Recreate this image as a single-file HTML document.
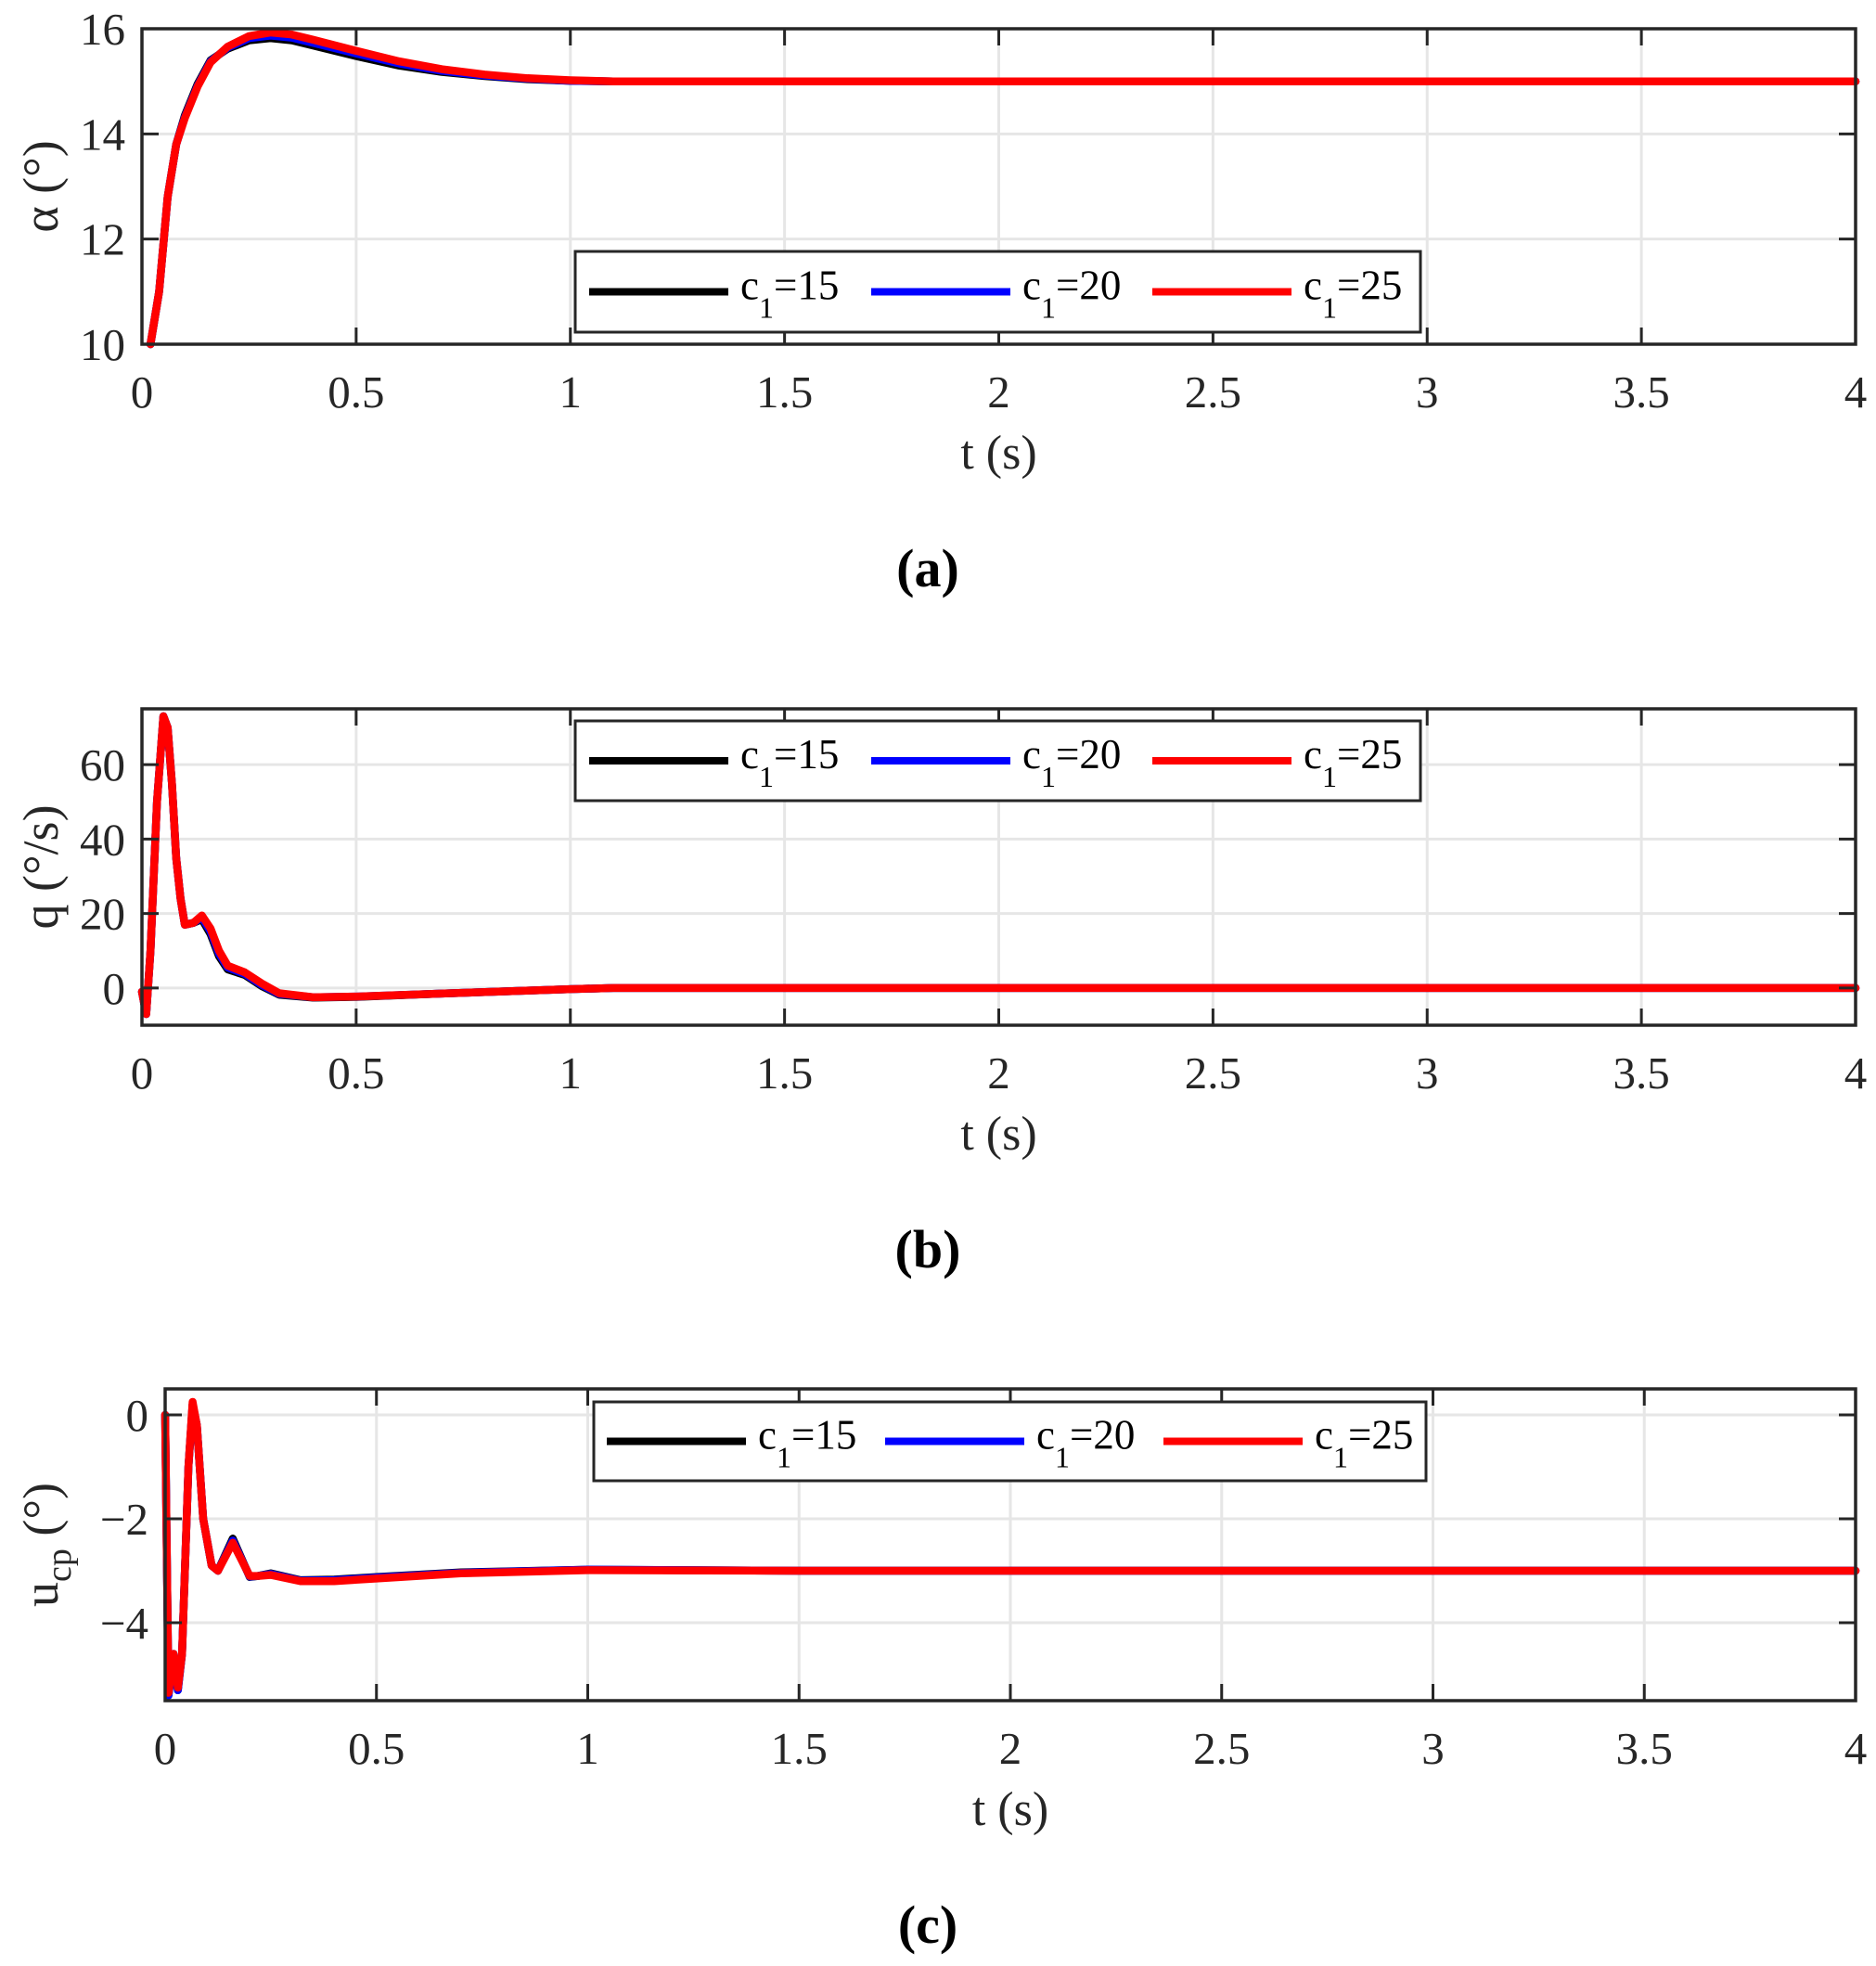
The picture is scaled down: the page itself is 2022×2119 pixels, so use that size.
<!DOCTYPE html>
<html><head><meta charset="utf-8"><style>
html,body{margin:0;padding:0;background:#fff;}
svg{display:block;font-family:"Liberation Serif",serif;}
</style></head><body>
<svg id="fig" width="2022" height="2119" viewBox="0 0 2022 2119" xmlns="http://www.w3.org/2000/svg"></svg>
<script>
// ---- Panel (a): alpha ----
const tA = [0.02,0.04,0.06,0.08,0.1,0.13,0.16,0.2,0.25,0.3,0.35,0.4,0.5,0.6,0.7,0.8,0.9,1.0,1.1,1.5,2,3,4];
const alpha15 = [10,11,12.8,13.8,14.35,14.95,15.4,15.62,15.78,15.82,15.78,15.68,15.48,15.3,15.18,15.1,15.04,15.01,15.0,15,15,15,15];
const alpha20 = [10,11,12.8,13.8,14.32,14.92,15.38,15.64,15.82,15.87,15.83,15.73,15.53,15.34,15.2,15.11,15.05,15.01,15.0,15,15,15,15];
const alpha25 = [10,11,12.8,13.8,14.3,14.9,15.36,15.66,15.86,15.93,15.89,15.79,15.58,15.38,15.23,15.13,15.06,15.02,15.0,15,15,15,15];
const ticksA = [10,12,14,16];
// ---- Panel (b): q ----
const tB = [0,0.01,0.02,0.035,0.05,0.06,0.07,0.08,0.09,0.1,0.12,0.14,0.16,0.18,0.2,0.24,0.28,0.32,0.4,0.5,0.7,1.0,1.1,2,3,4];
const q15 = [-1,-7,10,50,73,70,55,35,24,17,17.5,18.5,14.5,8.5,5,3.5,0.5,-1.8,-2.6,-2.4,-1.5,-0.3,0,0,0,0];
const q20 = [-1,-7,10,50,73,70,55,35,24,17,17.5,19,15.2,9.2,5.5,3.8,0.8,-1.6,-2.5,-2.3,-1.5,-0.3,0,0,0,0];
const q25 = [-1,-7,10,50,73,70,55,35,24,17,17.5,19.5,16,10,6,4.2,1.2,-1.4,-2.5,-2.3,-1.5,-0.3,0,0,0,0];
const ticksB = [0,20,40,60];
// ---- Panel (c): u_cp ----
const tC = [0,0.008,0.02,0.03,0.04,0.055,0.065,0.075,0.09,0.11,0.125,0.16,0.2,0.22,0.25,0.32,0.4,0.5,0.7,1.0,1.5,2,3,4];
const u15 = [0,-5.4,-4.6,-5.3,-4.6,-1,0.2,-0.2,-2,-2.9,-3.0,-2.38,-3.12,-3.1,-3.05,-3.18,-3.17,-3.12,-3.03,-2.98,-3,-3,-3,-3];
const u20 = [0,-5.4,-4.6,-5.3,-4.6,-1,0.2,-0.2,-2,-2.9,-3.0,-2.42,-3.11,-3.1,-3.06,-3.19,-3.18,-3.13,-3.04,-2.98,-3,-3,-3,-3];
const u25 = [0,-5.35,-4.6,-5.25,-4.6,-1,0.25,-0.2,-2,-2.9,-3.0,-2.46,-3.1,-3.1,-3.08,-3.2,-3.2,-3.15,-3.05,-2.99,-3,-3,-3,-3];
const ticksC = [-4,-2,0];
const ticksX = [0,0.5,1,1.5,2,2.5,3,3.5,4];
const xTickLabels = ["0","0.5","1","1.5","2","2.5","3","3.5","4"];
const legendLabels = ["15","20","25"];
const colors = ["#000000","#0000ff","#ff0000"];

const NS = "http://www.w3.org/2000/svg";
const svg = document.getElementById('fig');
function mk(tag, attrs, parent){
  const e = document.createElementNS(NS, tag);
  for (const k in attrs) e.setAttribute(k, attrs[k]);
  (parent||svg).appendChild(e);
  return e;
}

function panel(cfg){
  const g = mk('g', {});
  
  
  const L=cfg.l, R=cfg.r, T=cfg.t, B=cfg.b;
  const xs = v => L + (v - 0) / 4 * (R - L);
  const ys = v => B - (v - cfg.ymin) / (cfg.ymax - cfg.ymin) * (B - T);
  ticksX.forEach((v,i)=>{
    const ln = mk('line',{x1:xs(v),x2:xs(v),y1:T,y2:B,stroke:'#e6e6e6','stroke-width':3},g);
    
    
  });
  cfg.yt.forEach(v=>{
    const ln = mk('line',{x1:L,x2:R,y1:ys(v),y2:ys(v),stroke:'#e6e6e6','stroke-width':3},g);
    
    
  });
  const series = cfg.series;
  series.forEach((ys_,si)=>{
    const pts = cfg.x.map((t,i)=>xs(t).toFixed(1)+','+ys(ys_[i]).toFixed(1)).join(' ');
    const pl = mk('polyline',{points:pts,fill:'none',stroke:colors[si],'stroke-width':8.5,'stroke-linejoin':'round','stroke-linecap':'round'},g);
    
    
  });
  ticksX.forEach((v,i)=>{
    mk('line',{x1:xs(v),x2:xs(v),y1:B,y2:B-18,stroke:'#262626','stroke-width':3},g);
    mk('line',{x1:xs(v),x2:xs(v),y1:T,y2:T+18,stroke:'#262626','stroke-width':3},g);
    const tx = mk('text',{x:xs(v),y:B+68,'font-size':49,'text-anchor':'middle',fill:'#262626'},g);
    tx.textContent = xTickLabels[i];
    
    
  });
  cfg.yt.forEach(v=>{
    mk('line',{x1:L,x2:L+18,y1:ys(v),y2:ys(v),stroke:'#262626','stroke-width':3},g);
    mk('line',{x1:R,x2:R-18,y1:ys(v),y2:ys(v),stroke:'#262626','stroke-width':3},g);
    const tx = mk('text',{x:L-18,y:ys(v)+17,'font-size':49,'text-anchor':'end',fill:'#262626'},g);
    tx.textContent = String(v).replace('-','\u2212');
    
    
  });
  const fr = mk('rect',{x:L,y:T,width:R-L,height:B-T,fill:'none',stroke:'#262626','stroke-width':3.5},g);
  
  
  const xt = mk('text',{x:(L+R)/2,y:B+134,'font-size':52,'text-anchor':'middle',fill:'#262626'},g);
  xt.textContent = 't (s)';
  
  
  const yt = mk('text',{x:0,y:0,'font-size':54,'text-anchor':'middle',fill:'#262626',transform:'translate(62,'+((T+B)/2)+') rotate(-90)'},g);
  yt.innerHTML = cfg.ylabel;
  
  
  const pl = mk('text',{x:1000,y:B+261,'font-size':58,'font-weight':'bold','text-anchor':'middle',fill:'#000'},g);
  pl.textContent = cfg.plabel;
  
  
  const lg = cfg.leg;
  const lgG = mk('g',{},g);
  
  
  mk('rect',{x:lg.x1,y:lg.y1,width:lg.x2-lg.x1,height:lg.y2-lg.y1,fill:'#fff',stroke:'#262626','stroke-width':3},lgG);
  const cy = (lg.y1+lg.y2)/2;
  legendLabels.forEach((lab,i)=>{
    const lx = lg.lx[i];
    const ent = mk('g',{},lgG);
    
    
    mk('line',{x1:lx,x2:lx+150,y1:cy,y2:cy,stroke:colors[i],'stroke-width':8},ent);
    const tx = mk('text',{x:lx+163,y:cy+8,'font-size':45,fill:'#000'},ent);
    tx.innerHTML = 'c<tspan font-size="32" dy="20">1</tspan><tspan dy="-20">=' + lab + '</tspan>';
  });
}

panel({name:'panel-a-alpha',l:153,r:2000,t:31,b:371,ymin:10,ymax:16,yt:ticksA,x:tA,series:[alpha15,alpha20,alpha25],
  ylabel:'\u03b1 (\u00b0)',plabel:'(a)',leg:{x1:620,x2:1531,y1:271,y2:358,lx:[635,939,1242]}});
panel({name:'panel-b-q',l:153,r:2000,t:764,b:1105,ymin:-10,ymax:75,yt:ticksB,x:tB,series:[q15,q20,q25],
  ylabel:'q (\u00b0/s)',plabel:'(b)',leg:{x1:620,x2:1531,y1:777,y2:863,lx:[635,939,1242]}});
panel({name:'panel-c-ucp',l:178,r:2000,t:1497,b:1833,ymin:-5.5,ymax:0.5,yt:ticksC,x:tC,series:[u15,u20,u25],
  ylabel:'u<tspan font-size="38" dy="14">cp</tspan><tspan dy="-14"> (\u00b0)</tspan>',plabel:'(c)',leg:{x1:640,x2:1537,y1:1511,y2:1596,lx:[654,954,1254]}});
</script>
</body></html>
